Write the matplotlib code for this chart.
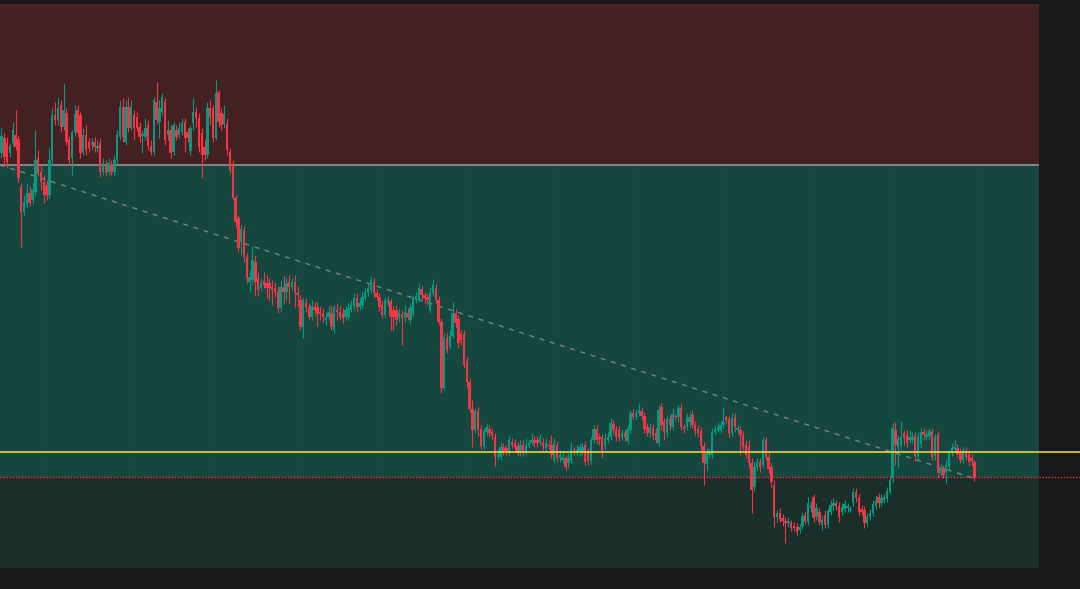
import numpy as np
import matplotlib
matplotlib.use("Agg")
import matplotlib.pyplot as plt

opens = [447,462,457,447,457,465,461,413,388,395,
407,400,408,442,428,418,415,405,440,485,
480,495,473,487,460,442,468,490,485,448,
465,458,455,458,452,457,428,435,428,436,
428,440,463,493,458,493,472,485,483,473,
464,463,475,454,448,498,478,488,498,465,
470,448,470,465,468,478,468,449,477,488,
482,467,453,445,492,492,462,508,487,476,
476,448,435,402,382,358,370,343,318,320,
338,322,312,319,317,317,313,312,309,292,
313,308,318,313,318,307,300,273,297,293,
283,293,293,288,287,280,283,287,270,290,
288,287,283,283,290,294,302,293,295,302,
307,310,318,307,303,295,285,297,299,290,
290,283,286,282,287,280,287,300,301,311,
305,303,290,307,312,300,278,212,262,254,
264,287,281,266,266,239,218,191,170,189,
171,154,168,171,168,163,143,143,153,152,
148,158,157,154,147,155,148,154,157,160,
160,158,158,152,155,155,140,155,142,140,
142,137,140,150,147,148,148,155,148,139,
160,171,163,162,154,160,163,176,170,170,
163,167,159,170,187,183,187,189,184,173,
167,172,167,157,193,178,167,181,173,184,
183,192,173,173,178,185,175,171,169,154,
136,145,145,168,170,170,175,183,181,167,
182,170,170,165,155,154,137,113,133,138,
135,160,143,133,115,83,87,82,79,77,
77,74,73,70,74,85,78,92,103,83,
88,75,85,75,88,94,97,94,88,91,
92,90,97,108,102,91,90,77,83,87,
94,103,97,100,101,108,122,170,153,155,
167,165,160,160,164,143,156,168,163,164,
168,144,165,127,132,128,133,147,151,152,
148,140,149,146,142,138]

closes = [464,443,438,454,470,453,422,388,398,407,
397,410,440,427,418,405,405,440,485,480,
492,473,490,458,440,468,486,467,447,465,
450,452,458,453,454,428,437,427,437,428,
440,465,493,463,493,472,493,472,472,463,
466,472,454,448,500,480,492,503,460,470,
447,475,463,472,477,462,462,472,488,482,
453,445,445,492,483,462,507,478,475,486,
450,430,402,378,352,371,343,322,323,340,
318,310,317,315,312,312,310,308,292,313,
308,317,313,318,307,305,273,300,293,283,
294,290,287,286,283,283,288,273,293,288,
283,282,290,292,295,302,293,297,303,308,
312,320,307,303,293,285,300,300,283,283,
280,287,282,288,283,293,302,304,312,305,
302,300,308,315,300,278,212,262,250,264,
287,277,257,260,235,218,191,170,189,170,
154,169,173,167,164,143,145,153,148,148,
160,155,153,147,155,147,155,157,160,157,
157,162,153,157,154,145,157,142,145,143,
133,142,151,148,150,153,153,138,139,160,
171,160,161,148,162,163,177,170,163,163,
167,163,171,187,183,187,190,184,171,167,
172,165,160,190,175,168,181,175,186,183,
192,173,171,183,183,175,169,167,154,137,
147,148,168,171,173,175,178,180,167,182,
173,172,165,153,145,137,110,133,138,133,
160,143,131,118,83,87,81,79,77,79,
72,72,68,73,84,79,97,95,82,92,
78,80,75,89,95,97,94,83,93,96,
94,91,108,102,88,88,77,83,87,96,
100,97,102,103,109,120,172,155,162,163,
162,157,163,163,144,163,168,165,166,169,
143,163,127,133,125,135,147,152,153,146,
140,149,143,138,139,122]

highs = [472,467,463,457,478,490,465,417,405,417,
414,418,470,450,435,425,420,452,492,498,
503,500,517,492,464,470,495,495,488,472,
475,462,462,463,460,462,442,440,442,440,
445,470,500,502,500,503,500,490,488,478,
470,482,480,460,503,518,500,507,502,480,
475,478,475,478,482,482,472,475,502,493,
487,472,460,498,500,495,520,510,492,495,
482,452,440,405,385,375,374,347,330,354,
345,328,322,328,325,322,320,318,314,320,
324,322,325,322,325,314,305,303,302,297,
300,298,298,294,292,287,294,295,295,297,
295,292,294,298,300,307,307,303,308,312,
316,324,322,311,307,300,303,304,302,294,
295,292,290,295,292,297,305,308,317,315,
308,307,313,321,316,304,282,267,267,270,
298,291,285,270,270,243,222,200,192,193,
175,172,177,175,172,167,150,158,157,155,
164,162,161,158,160,160,162,160,167,164,
164,166,162,162,160,165,162,159,150,148,
145,147,158,153,155,157,157,159,152,163,
175,175,167,166,167,168,182,180,174,174,
171,170,175,190,191,191,197,193,188,177,
177,176,172,195,197,182,185,185,192,187,
195,197,176,187,188,190,179,175,173,158,
152,152,172,175,178,180,193,185,184,187,
187,175,174,169,160,160,142,138,142,142,
163,163,147,137,120,90,92,86,83,83,
80,78,77,76,88,89,103,99,106,97,
92,85,90,92,100,102,100,98,97,100,
97,94,112,112,106,95,94,87,91,100,
105,107,106,106,113,124,177,178,165,179,
170,170,170,168,168,168,172,172,170,172,
172,167,169,137,135,140,150,157,160,156,
152,153,153,150,146,140]

lows = [442,435,432,443,454,450,418,353,385,393,
394,396,404,424,410,397,400,402,435,475,
475,468,470,455,435,425,464,463,442,445,
445,448,450,448,448,423,425,424,425,425,
425,437,460,458,455,468,470,460,469,458,
447,460,450,445,445,476,462,485,455,460,
442,445,460,462,465,448,458,445,470,473,
448,422,440,442,475,458,460,473,470,472,
445,427,400,373,348,345,338,317,308,315,
304,304,309,312,302,300,295,303,287,288,
296,300,297,310,293,294,270,262,288,280,
280,284,274,280,278,275,280,270,267,280,
280,277,280,280,288,290,288,290,292,300,
304,307,303,300,289,282,282,294,270,270,
275,278,255,278,280,276,284,297,298,300,
297,295,287,304,297,275,207,210,247,251,
262,273,252,255,232,213,188,153,167,164,
151,151,164,163,160,134,140,140,145,144,
145,152,150,144,144,144,145,152,155,153,
153,155,150,148,151,142,137,138,138,137,
130,132,137,145,144,145,145,135,135,136,
157,156,155,142,150,157,160,166,159,159,
160,159,156,167,180,180,184,180,167,164,
163,160,157,154,170,160,163,170,170,180,
178,170,167,170,173,172,165,163,150,115,
130,142,142,165,168,167,172,177,163,164,
168,167,145,150,142,132,87,109,130,128,
132,140,127,113,73,78,78,74,57,73,
69,69,65,67,71,76,75,88,78,80,
75,70,72,72,85,90,90,78,85,88,
88,88,94,98,85,85,72,74,80,84,
91,92,94,97,98,106,118,135,132,150,
155,153,157,157,139,140,152,160,160,160,
140,140,122,124,122,117,130,144,148,143,
137,137,140,135,134,119]

# Horizontal levels (price units)
upper_zone_level = 435
yellow_level = 148
trend_start_price = 435
trend_end_price = 121

assert len(opens) == len(closes) == len(highs) == len(lows)

UP = '#089981'
DOWN = '#f23645'

fig = plt.figure(figsize=(10.8, 5.89), dpi=100, facecolor='#181818')
ax = fig.add_axes([0, 21 / 589, 1039 / 1080, 564 / 589])
ax.set_axis_off()

n = len(closes)
x = np.arange(n)
ymin, ymax = 32, 596
last_price = closes[-1]

ax.set_xlim(-0.53, 367.9)
ax.set_ylim(ymin, ymax)

# zones
ax.axhspan(upper_zone_level, ymax, color='#432022', zorder=0, lw=0)
ax.axhspan(last_price + 1, upper_zone_level, color='#15473f', zorder=0, lw=0)
ax.axhspan(ymin, last_price + 1, color='#1a2e2a', zorder=0, lw=0)
ax.axhline(ymax - 0.5, color='#52272a', lw=1.0, zorder=1)

# very faint vertical grid
for gx in np.arange(14.7, 368, 30.14):
    ax.axvline(gx, color='#ffffff', alpha=0.015, lw=0.8, zorder=1)

# boundary line of upper zone
ax.axhline(upper_zone_level, color='#8c8c8c', lw=1.3, zorder=2)

# dashed trend line
ax.plot([-0.53, n - 0.5], [trend_start_price, trend_end_price], color='#9a9a9a',
        lw=1.0, alpha=0.75, linestyle=(0, (3.6, 4.1)), zorder=2)

# candles
o = np.array(opens, float)
c = np.array(closes, float)
h = np.array(highs, float)
l = np.array(lows, float)
cols = [UP if cc >= oo else DOWN for oo, cc in zip(o, c)]
ax.vlines(x, l, h, colors=cols, lw=0.8, zorder=3)
bottom = np.minimum(o, c)
height = np.maximum(np.abs(c - o), 1.2)
ax.bar(x, height, bottom=bottom, width=0.86, color=cols, lw=0, zorder=4)

# yellow level and last price dotted line spanning full width
tr = ax.get_yaxis_transform()
ax.plot([0, 1080 / 1039], [yellow_level, yellow_level], transform=tr, color='#f7e03c',
        lw=1.1, clip_on=False, zorder=5)
ax.plot([0, 1080 / 1039], [last_price + 1, last_price + 1], transform=tr, color=DOWN,
        lw=1.0, linestyle=(0, (1.0, 1.2)), clip_on=False, zorder=5)

fig.savefig('out.png', dpi=100, facecolor=fig.get_facecolor())
